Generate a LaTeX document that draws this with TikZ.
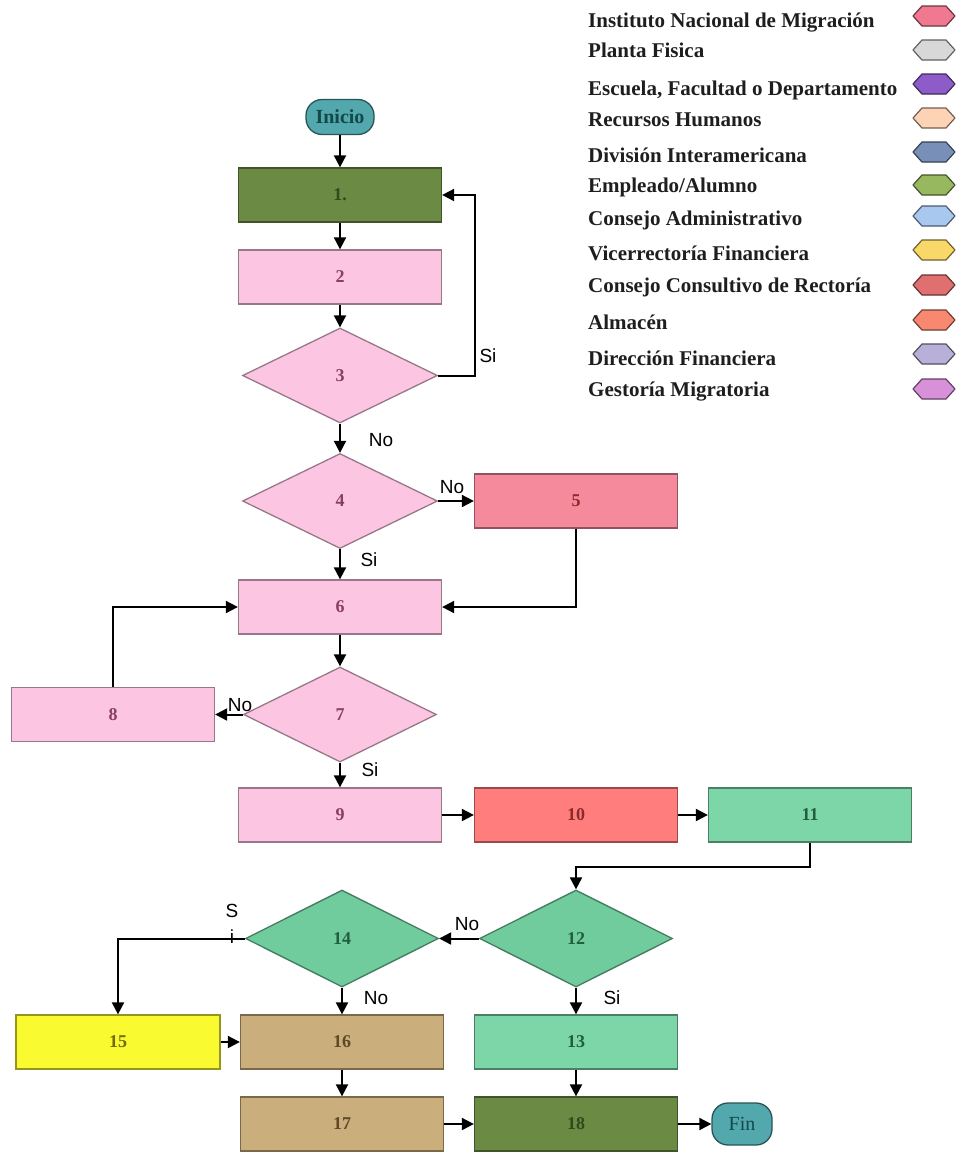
\documentclass[tikz,border=0pt]{standalone}
\usepackage{fontspec}
\setmainfont{Liberation Serif}
\newfontfamily\labelfont{Liberation Sans}
\usetikzlibrary{shapes.geometric,arrows.meta}

% fills and text colours of the flow chart
\definecolor{olivebox}{HTML}{6B8B44}
\definecolor{olivetext}{HTML}{2F4A1C}
\definecolor{pinkbox}{HTML}{FCC6E2}
\definecolor{pinktext}{HTML}{8A3D66}
\definecolor{rosebox}{HTML}{F48A9C}
\definecolor{redbox}{HTML}{FF7D7D}
\definecolor{redtext}{HTML}{8A2A2A}
\definecolor{mintbox}{HTML}{7DD6A8}
\definecolor{greendia}{HTML}{70CC9C}
\definecolor{greentext}{HTML}{1F5E3E}
\definecolor{yellowbox}{HTML}{FAFA30}
\definecolor{yellowtext}{HTML}{6E6A10}
\definecolor{tanbox}{HTML}{CAAE7C}
\definecolor{tantext}{HTML}{5E4828}
\definecolor{tealterm}{HTML}{52A8AC}
\definecolor{tealtext}{HTML}{124A4C}
\definecolor{legendtext}{HTML}{1E1E1E}

% legend colours
\definecolor{lgA}{HTML}{F07890}
\definecolor{lgB}{HTML}{D8D8D8}
\definecolor{lgC}{HTML}{8E5CC8}
\definecolor{lgD}{HTML}{FCD3B5}
\definecolor{lgE}{HTML}{7890B8}
\definecolor{lgF}{HTML}{98B860}
\definecolor{lgG}{HTML}{A8C8F0}
\definecolor{lgH}{HTML}{F8D868}
\definecolor{lgI}{HTML}{E07070}
\definecolor{lgJ}{HTML}{F88870}
\definecolor{lgK}{HTML}{B8B0D8}
\definecolor{lgL}{HTML}{D890D8}

\tikzset{
  box/.style={rectangle, draw=#1!60!black, fill=#1, line width=1.3pt,
    minimum width=203pt, minimum height=54pt, inner sep=0pt,
    font=\fontsize{18}{20}\selectfont\bfseries},
  decision/.style={diamond, draw=#1!60!black, fill=#1, line width=1.3pt,
    minimum width=195pt, minimum height=95pt, inner sep=0pt,
    font=\fontsize{18}{20}\selectfont\bfseries},
  terminal/.style={rectangle, rounded corners=16pt, draw=tealterm!50!black,
    fill=tealterm, text=tealtext, line width=1.3pt, inner sep=0pt,
    font=\fontsize{20}{22}\selectfont\bfseries},
  flow/.style={line width=2pt, -{Triangle[length=12pt,width=12pt]}},
  lbl/.style={font=\labelfont\fontsize{19}{21}\selectfont, inner sep=0pt},
  legendlabel/.style={anchor=west, inner sep=0pt, text=legendtext,
    font=\fontsize{21}{23}\selectfont\bfseries},
}

\begin{document}
\begin{tikzpicture}[x=1pt,y=-1pt]
\useasboundingbox (0,0) rectangle (957,1152);

% ---- legend ----
\foreach \txt/\col/\ty/\hy [count=\i] in {
  {Instituto Nacional de Migración}/lgA/23/16,
  {Planta Fisica}/lgB/50/50,
  {Escuela, Facultad o Departamento}/lgC/90/84,
  {Recursos Humanos}/lgD/120/118,
  {División Interamericana}/lgE/155/152,
  {Empleado/Alumno}/lgF/187/185,
  {Consejo Administrativo}/lgG/220/216,
  {Vicerrectoría Financiera}/lgH/253/250,
  {Consejo Consultivo de Rectoría}/lgI/287/285,
  {Almacén}/lgJ/322/320,
  {Dirección Financiera}/lgK/358/354,
  {Gestoría Migratoria}/lgL/392/389}{
  \node[legendlabel] (leg\i) at (588,\ty) {\txt};
  \draw[fill=\col, draw=\col!45!black, line width=1.2pt, line join=round]
    (913,\hy) -- (922,\hy-10) -- (946,\hy-10) -- (955,\hy)
    -- (946,\hy+10) -- (922,\hy+10) -- cycle;
}

% ---- flow chart nodes ----
\node[terminal, minimum width=68pt, minimum height=35pt] (ini) at (340,117) {Inicio};
\node[box=olivebox, text=olivetext] (b1) at (340,195) {1.};
\node[box=pinkbox, text=pinktext] (b2) at (340,277) {2};
\node[decision=pinkbox, text=pinktext] (d3) at (340,375.5) {3};
\node[decision=pinkbox, text=pinktext] (d4) at (340,501) {4};
\node[box=rosebox, text=redtext] (b5) at (576,501) {5};
\node[box=pinkbox, text=pinktext] (b6) at (340,607) {6};
\node[decision=pinkbox, text=pinktext, minimum width=193pt] (d7) at (340,714.5) {7};
\node[box=pinkbox, text=pinktext] (b8) at (113,714.5) {8};
\node[box=pinkbox, text=pinktext] (b9) at (340,815) {9};
\node[box=redbox, text=redtext] (b10) at (576,815) {10};
\node[box=mintbox, text=greentext] (b11) at (810,815) {11};
\node[decision=greendia, text=greentext, minimum width=193pt, minimum height=97pt] (d12) at (576,938.5) {12};
\node[decision=greendia, text=greentext, minimum width=193pt, minimum height=97pt] (d14) at (342,938.5) {14};
\node[box=yellowbox, text=yellowtext, minimum width=204pt] (b15) at (118,1042) {15};
\node[box=tanbox, text=tantext] (b16) at (342,1042) {16};
\node[box=mintbox, text=greentext] (b13) at (576,1042) {13};
\node[box=tanbox, text=tantext] (b17) at (342,1124) {17};
\node[box=olivebox, text=olivetext] (b18) at (576,1124) {18};
\node[terminal, minimum width=60pt, minimum height=42pt, font=\fontsize{20}{22}\selectfont] (fin) at (742,1124) {Fin};

% ---- connectors ----
\draw[flow] (ini) -- (b1);
\draw[flow] (b1) -- (b2);
\draw[flow] (b2) -- (d3);
\draw[flow] (d3.east) -- ++(37,0) |- (b1.east);
\draw[flow] (d3) -- (d4);
\draw[flow] (d4.east) -- (b5.west);
\draw[flow] (d4) -- (b6);
\draw[flow] (b5.south) |- (b6.east);
\draw[flow] (b6) -- (d7);
\draw[flow] (d7.west) -- (b8.east);
\draw[flow] (b8.north) |- (b6.west);
\draw[flow] (d7) -- (b9);
\draw[flow] (b9) -- (b10);
\draw[flow] (b10) -- (b11);
\draw[flow] (b11.south) -- ++(0,24) -| (d12.north);
\draw[flow] (d12.west) -- (d14.east);
\draw[flow] (d14.west) -| (b15.north);
\draw[flow] (d14) -- (b16);
\draw[flow] (d12) -- (b13);
\draw[flow] (b15) -- (b16);
\draw[flow] (b16) -- (b17);
\draw[flow] (b13) -- (b18);
\draw[flow] (b17) -- (b18);
\draw[flow] (b18) -- (fin);

% ---- branch labels ----
\node[lbl] (l3si) at (488,356) {Si};
\node[lbl] (l3no) at (381,440) {No};
\node[lbl] (l4no) at (452,487) {No};
\node[lbl] (l4si) at (369,560) {Si};
\node[lbl] (l7no) at (240,705) {No};
\node[lbl] (l7si) at (370,770) {Si};
\node[lbl] (l12no) at (467,924) {No};
\node[lbl] (l14s) at (232,911) {S};
\node[lbl] (l14i) at (232,937) {i};
\node[lbl] (l14no) at (376,998) {No};
\node[lbl] (l12si) at (612,998) {Si};
\end{tikzpicture}
\end{document}
